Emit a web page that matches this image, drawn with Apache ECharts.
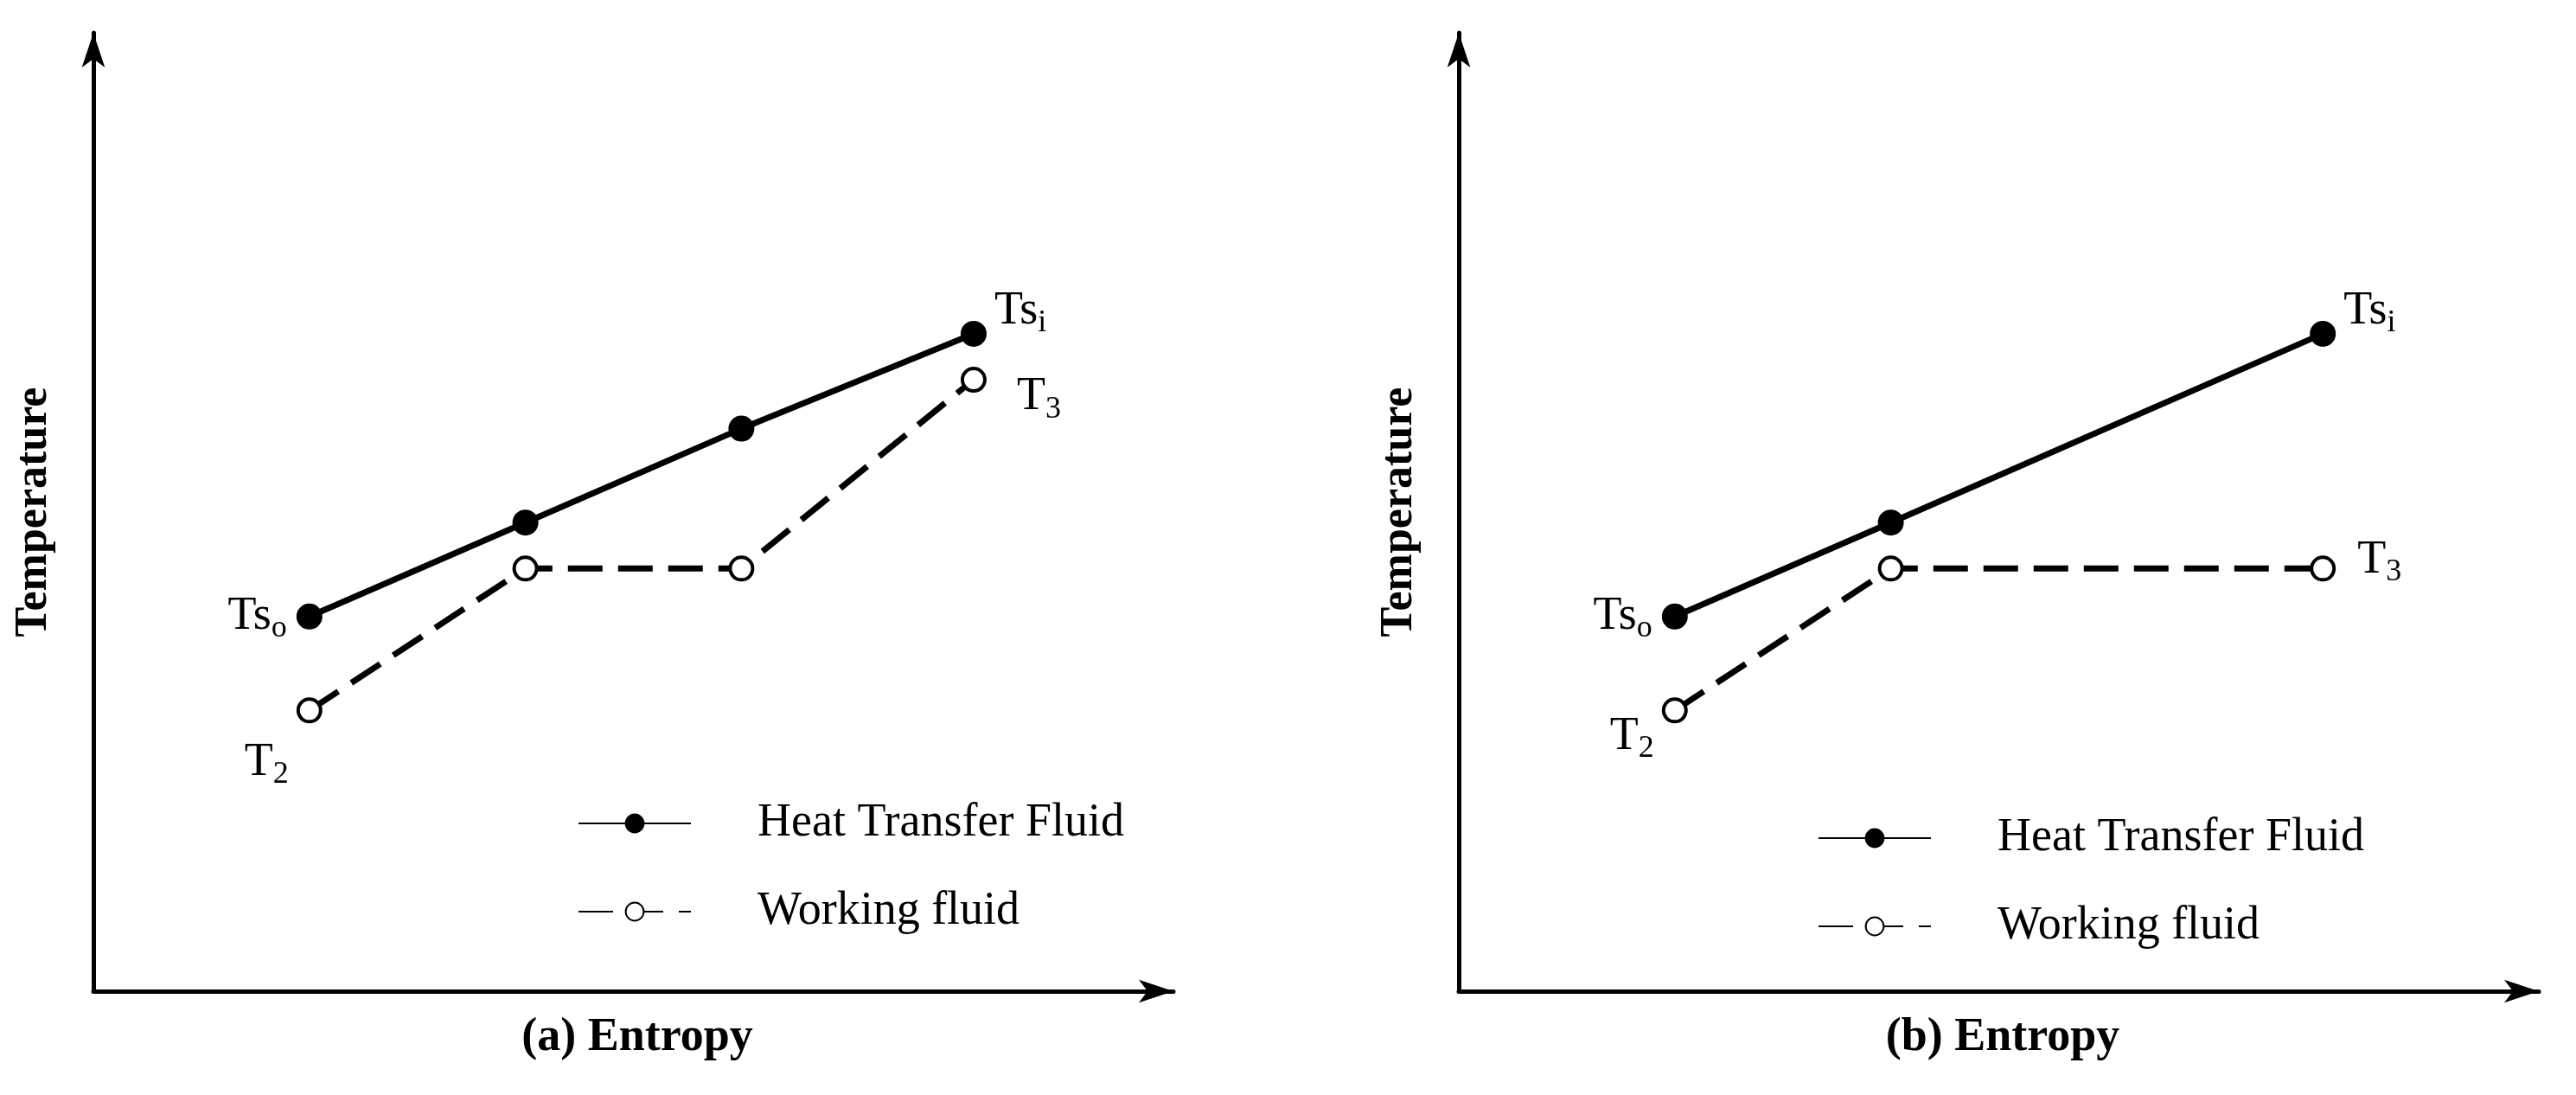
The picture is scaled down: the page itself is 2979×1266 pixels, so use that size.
<!DOCTYPE html><html><head><meta charset="utf-8">
<script src="https://cdn.jsdelivr.net/npm/echarts@6/dist/echarts.min.js"></script>
<style>html,body{margin:0;background:#fff}#c{width:2979px;height:1266px}</style></head><body><div id="c"></div>
<script>
const xA=[2,4,6,8.15], htfA=[3.91,4.89,5.87,6.86], wfA=[2.93,4.41,4.41,6.38];
const xB=[2,4,8], htfB=[3.91,4.89,6.86], wfB=[2.93,4.41,4.41];
const F='Liberation Serif';
const rich={n:{fontSize:54,fontFamily:F,color:'#000'},s:{fontSize:36,fontFamily:F,color:'#000',verticalAlign:'bottom',padding:[28,0,0,0]}};
function lab(txt,sub,pos,off){return {show:true,formatter:'{n|'+txt+'}{s|'+sub+'}',rich,position:pos,offset:off};}
function mk(xs,ys,labels){return xs.map((x,i)=>{const o={value:[x,ys[i]]};if(labels[i])o.label=labels[i];return o;});}
const grids=[{left:108,top:38,width:1249,height:1108},{left:1687,top:38,width:1249,height:1108}];
function ax(i,isX){return {type:'value',gridIndex:i,min:0,max:10,
 axisLine:{show:true,onZero:false,symbol:['none','arrow'],symbolSize:[20,40],lineStyle:{color:'#000',width:5}},
 axisTick:{show:false},axisLabel:{show:false},splitLine:{show:false},
 name:isX?'':'Temperature',nameLocation:'middle',nameGap:42,nameRotate:90,
 nameTextStyle:{fontFamily:F,fontWeight:'bold',fontSize:52,color:'#000'}};}
function ser(name,i,data,dashed){return {name,type:'line',xAxisIndex:i,yAxisIndex:i,data,
 symbol:'circle',symbolSize:26,lineStyle:{color:'#000',width:7,type:dashed?[40,18]:'solid'},
 itemStyle:{color:dashed?'#fff':'#000',borderColor:'#000',borderWidth:4},animation:false};}
const opt={animation:false,grid:grids,xAxis:[ax(0,true),ax(1,true)],yAxis:[ax(0,false),ax(1,false)],
 title:[{text:'(a) Entropy',left:732,top:1168,textAlign:'center',textStyle:{fontFamily:F,fontWeight:'bold',fontSize:54,color:'#000'}},
        {text:'(b) Entropy',left:2311,top:1168,textAlign:'center',textStyle:{fontFamily:F,fontWeight:'bold',fontSize:54,color:'#000'}}],
 legend:[
  {orient:'vertical',left:663,top:920,itemWidth:130,itemHeight:26,itemGap:48,data:['Heat Transfer Fluid','Working fluid'],
   textStyle:{fontFamily:F,fontSize:54,color:'#000',padding:[0,0,0,72]}},
  {orient:'vertical',left:2097,top:937,itemWidth:130,itemHeight:26,itemGap:48,data:['Heat Transfer Fluid','Working fluid'],
   textStyle:{fontFamily:F,fontSize:54,color:'#000',padding:[0,0,0,72]}}],
 series:[
  ser('Heat Transfer Fluid',0,mk(xA,htfA,[lab('Ts','o','left',[-6,0]),null,null,lab('Ts','i','right',[4,-26])])),
  ser('Working fluid',0,mk(xA,wfA,[lab('T','2','left',[-4,60]),null,null,lab('T','3','right',[30,20])]),true),
  ser('Heat Transfer Fluid',1,mk(xB,htfB,[lab('Ts','o','left',[-6,0]),null,lab('Ts','i','right',[4,-26])])),
  ser('Working fluid',1,mk(xB,wfB,[lab('T','2','left',[-4,30]),null,lab('T','3','right',[20,-10])]),true)]};
echarts.init(document.getElementById('c')).setOption(opt);
</script></body></html>
